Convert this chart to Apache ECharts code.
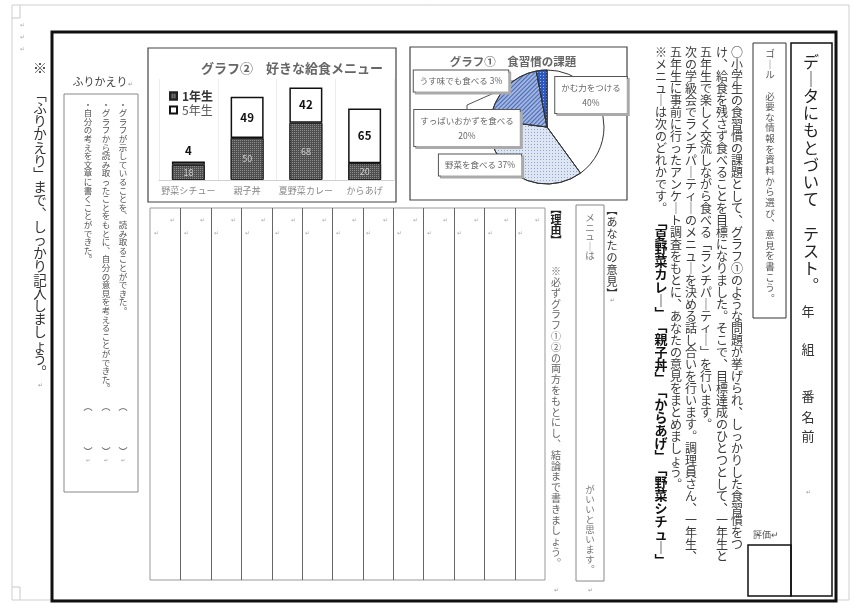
<!DOCTYPE html>
<html><head><meta charset="utf-8">
<script src="https://cdn.jsdelivr.net/npm/echarts/dist/echarts.min.js"></script>
<style>html,body{margin:0;padding:0;background:#fff}#c{width:854px;height:604px}</style>
</head><body><div id="c"></div>
<script>
// ---------- data ----------
const categories = ['野菜シチュー', '親子丼', '夏野菜カレー', 'からあげ'];
const grade1Values = [18, 50, 68, 20];
const grade5Values = [4, 49, 42, 65];
const seriesNames = ['1年生', '5年生'];
const barTitle = 'グラフ②　好きな給食メニュー';
const pieTitle = 'グラフ①　食習慣の課題';
const pieNames = ['かむ力をつける', '野菜を食べる', 'すっぱいおかずを食べる', 'うす味でも食べる'];
const pieValues = [40, 37, 20, 3];

const paragraph = [
  '○小学生の食習慣の課題として、グラフ①のような問題が挙げられ、しっかりした食習慣をつ',
  'け、給食を残さず食べることを目標になりました。そこで、目標達成のひとつとして、一年生と',
  '五年生で楽しく交流しながら食べる「ランチパーティー」を行います。',
  '次の学級会でランチパーティーのメニューを決める話し合いを行います。調理員さん、一年生、',
  '五年生に事前に行ったアンケート調査をもとに、あなたの意見をまとめましょう。',
  '※メニューは次のどれかです。'
];
const menuLine = '「夏野菜カレー」「親子丼」「からあげ」「野菜シチュー」';
const reflectionItems = [
  '・グラフが示していることを、読み取ることができた。',
  '・グラフから読み取ったことをもとに、自分の意見を考えることができた。',
  '・自分の考えを文章に書くことができた。'
];

// ---------- helpers ----------
const FONT = '"Noto Sans CJK JP","Noto Sans CJK SC",sans-serif';
const VMAP = {'ー':'｜','、':'︑','。':'︒','「':'﹁','」':'﹂','【':'︻','】':'︼','（':'︵','）':'︶'};
function vtext(x, y, s, size, lh, color, weight) {
  const chars = Array.from(s).map(c => VMAP[c] || c);
  return {type:'text', x:x, y:y, z:10, silent:true, style:{
    text: chars.join('\n'), fill: color, fontSize: size, fontFamily: FONT,
    fontWeight: weight || 'normal', lineHeight: lh,
    align:'center', verticalAlign:'top', textAlign:'center', textVerticalAlign:'top'}};
}
function htext(x, y, s, size, color, weight, align) {
  return {type:'text', x:x, y:y, z:10, silent:true, style:{
    text: s, fill: color, fontSize: size, fontFamily: FONT, fontWeight: weight || 'normal',
    align: align || 'center', verticalAlign:'middle', textAlign: align || 'center', textVerticalAlign:'middle'}};
}
function rect(x1, y1, x2, y2, stroke, lw) {
  return {type:'rect', silent:true, z:1, shape:{x:x1, y:y1, width:x2-x1, height:y2-y1},
    style:{fill:'none', stroke:stroke, lineWidth:lw}};
}
function line(x1, y1, x2, y2, stroke, lw) {
  return {type:'line', silent:true, z:1, shape:{x1:x1, y1:y1, x2:x2, y2:y2},
    style:{stroke:stroke, lineWidth:lw}};
}

const g = [];
// page outline & corner marks
g.push(rect(12, 5, 849, 600, '#cfcfcf', 1));
g.push({type:'polyline', silent:true, shape:{points:[[20,5],[20,18],[12,18]]}, style:{fill:'none', stroke:'#c8c8c8', lineWidth:1}});
g.push({type:'polyline', silent:true, shape:{points:[[12,587],[20,587],[20,600]]}, style:{fill:'none', stroke:'#c8c8c8', lineWidth:1}});
['↵','↵','↵'].forEach((m, i) => g.push(htext(22, 25 + i * 12, m, 6, '#aaa')));
// thick frame
g.push(rect(52, 32, 836, 601, '#111', 3));
// title box
g.push(rect(791, 43, 832, 596, '#111', 1.5));
g.push(vtext(811, 53, 'データにもとづいて　テスト。', 16, 17.2, '#222'));
[['年',311],['組',349],['番',396],['名',417],['前',436]].forEach(p => g.push(htext(808, p[1], p[0], 13, '#333')));
g.push(htext(808, 492, '↵', 6, '#999'));
// goal box
g.push(rect(753, 43, 786, 318, '#333', 1));
g.push(vtext(770, 48, 'ゴール　必要な情報を資料から選び、意見を書こう。', 9.5, 10.65, '#555'));
// evaluation
g.push(htext(766, 535, '評価↵', 9, '#555'));
g.push(rect(748, 545, 791, 596, '#111', 1.5));
// main paragraph
const colX = [737, 722, 706, 691, 676, 661];
paragraph.forEach((s, i) => g.push(vtext(colX[i], 46, s, 12, 12, '#3a3a3a')));
g.push(vtext(colX[5], 216, menuLine, 13, 13, '#111', 'bold'));
// opinion
g.push(vtext(612, 204, '【あなたの意見】', 11, 12, '#333'));
g.push(htext(612, 300, '↵', 6, '#999'));
g.push(rect(576, 205, 604, 581, '#888', 1));
g.push(vtext(590, 213, 'メニューは', 9.5, 9.5, '#777'));
g.push(vtext(590, 484, 'がいいと思います。', 9.5, 10, '#777'));
g.push(vtext(556, 204, '【理由】', 11, 10.5, '#222', 'bold'));
g.push(vtext(556, 266, '※必ずグラフ①②の両方をもとにし、結論まで書きましょう。', 10, 10.8, '#666'));
g.push(htext(556, 590, '↵', 6, '#999'));
g.push(htext(590, 590, '↵', 6, '#999'));
// writing grid
const gridL = 150, gridR = 545, gridT = 208, gridB = 580, nCols = 13;
const cw = (gridR - gridL) / nCols;
g.push(rect(gridL, gridT, gridR, gridB, '#999', 1));
for (let i = 1; i < nCols; i++) {
  const x = Math.round(gridL + i * cw) + 0.5;
  g.push(line(x, gridT, x, gridB, '#666', 1));
}
for (let i = 0; i < nCols; i++) {
  const l = gridL + i * cw;
  g.push(htext(l + cw - 8, 220, '↵', 6, '#aaa'));
  g.push(htext(l + 6, 233, '↵', 6, '#aaa'));
}
// reflection
g.push(htext(100, 82, 'ふりかえり', 11, '#444'));
g.push(htext(130, 84, '↵', 6, '#999'));
g.push(rect(64, 94, 138, 492, '#888', 1));
const refX = [123, 106, 88];
reflectionItems.forEach((s, i) => {
  g.push(vtext(refX[i], 100, s, 8.5, 8.6, '#555'));
  g.push(htext(refX[i], 407, '︵', 9, '#555'));
  g.push(htext(refX[i], 452, '︶', 9, '#555'));
  g.push(htext(refX[i], 460, '↵', 5, '#999'));
});
// left instruction
g.push(htext(40, 68, '※', 14, '#333'));
g.push(vtext(40, 88, '「ふりかえり」まで、しっかり記入しましょう。', 13.5, 13.2, '#333'));
g.push(htext(40, 385, '↵', 6, '#999'));
// chart boxes & titles
g.push(rect(148, 48, 396, 202, '#444', 1.2));
g.push(rect(410, 47, 627, 200, '#444', 1.2));
g.push(htext(292, 68, barTitle, 13, '#666', 'bold'));
g.push(htext(513, 62, pieTitle, 11.5, '#666', 'bold'));

// ---------- chart ----------
const chart = echarts.init(document.getElementById('c'), null, {renderer:'canvas'});
const labelPos = [[591, 95], [480, 165], [467, 128], [461, 81]];
const pieColors = ['#ffffff', '#dfe6f3', '#9fb4e0', '#2b58c2'];
const pieDecals = [
  null,
  {symbol:'rect', symbolSize:1, color:'#8fa3cf', dashArrayX:[1, 2], dashArrayY:[1, 2]},
  {symbol:'rect', symbolSize:1, color:'#4868b3', dashArrayX:[1, 0], dashArrayY:[1, 2], rotation:-Math.PI / 4},
  {symbol:'rect', symbolSize:1, color:'#9fb8ee', dashArrayX:[1, 2], dashArrayY:[1, 2]}
];

const option = {
  backgroundColor: '#fff',
  animation: false,
  textStyle: {fontFamily: FONT},
  legend: {
    orient: 'vertical', left: 164, top: 85, itemGap: 2, itemWidth: 7, itemHeight: 7, icon: 'rect',
    textStyle: {fontSize: 12, fontFamily: FONT},
    data: [
      {name: seriesNames[0], textStyle: {fontWeight: 'bold', color: '#333'}},
      {name: seriesNames[1], textStyle: {color: '#555'}}
    ]
  },
  grid: {left: 159, top: 79, width: 235, height: 101, containLabel: false},
  xAxis: {
    type: 'category', data: categories,
    axisLine: {lineStyle: {color: '#d0d0d0'}},
    axisTick: {show: false},
    axisLabel: {color: '#888', fontSize: 9, margin: 6, interval: 0, fontFamily: FONT},
    splitLine: {show: true, lineStyle: {color: '#ececec'}}
  },
  yAxis: {type: 'value', min: 0, max: 120, show: false, splitLine: {show: false}},
  series: [
    {
      name: seriesNames[0], type: 'bar', stack: 'total', barWidth: 33, data: grade1Values,
      itemStyle: {color: '#4f4f4f', borderColor: '#222', borderWidth: 1,
        decal: {symbol: 'rect', symbolSize: 1, color: '#8c8c8c', dashArrayX: [1, 1], dashArrayY: [1, 1]}},
      label: {show: true, position: 'inside', color: '#cfcfcf', fontSize: 9}
    },
    {
      name: seriesNames[1], type: 'bar', stack: 'total', barWidth: 33,
      data: grade5Values.map(v => v < 10 ? {value: v, label: {position: 'top'}} : v),
      itemStyle: {color: '#fff', borderColor: '#111', borderWidth: 1.5},
      label: {show: true, position: 'inside', color: '#111', fontSize: 11.5, fontWeight: 'bold'}
    },
    {
      name: 'pie', type: 'pie', center: [547, 127], radius: 57, startAngle: 90, clockwise: true,
      data: pieNames.map((n, i) => ({name: n, value: pieValues[i],
        itemStyle: {color: pieColors[i], decal: pieDecals[i] || undefined}})),
      itemStyle: {borderColor: '#333', borderWidth: 1},
      label: {
        show: true, position: 'outside', fontSize: 8.5, color: '#666', fontFamily: FONT,
        backgroundColor: '#fff', borderColor: '#555', borderWidth: 1, padding: [3, 6],
        lineHeight: 15, align: 'center',
        shadowColor: '#aaa', shadowOffsetX: 2, shadowOffsetY: 2, shadowBlur: 0,
        formatter: p => p.name + ((p.dataIndex % 2 === 0) ? '\n' : ' ') + Math.round(p.percent) + '%'
      },
      labelLine: {show: true, length: 6, length2: 4, lineStyle: {color: '#555', width: 1}},
      labelLayout: p => ({x: labelPos[p.dataIndex][0], y: labelPos[p.dataIndex][1], align: 'center', verticalAlign: 'middle'}),
      emphasis: {disabled: true}
    }
  ],
  graphic: g
};
chart.setOption(option);
</script></body></html>
